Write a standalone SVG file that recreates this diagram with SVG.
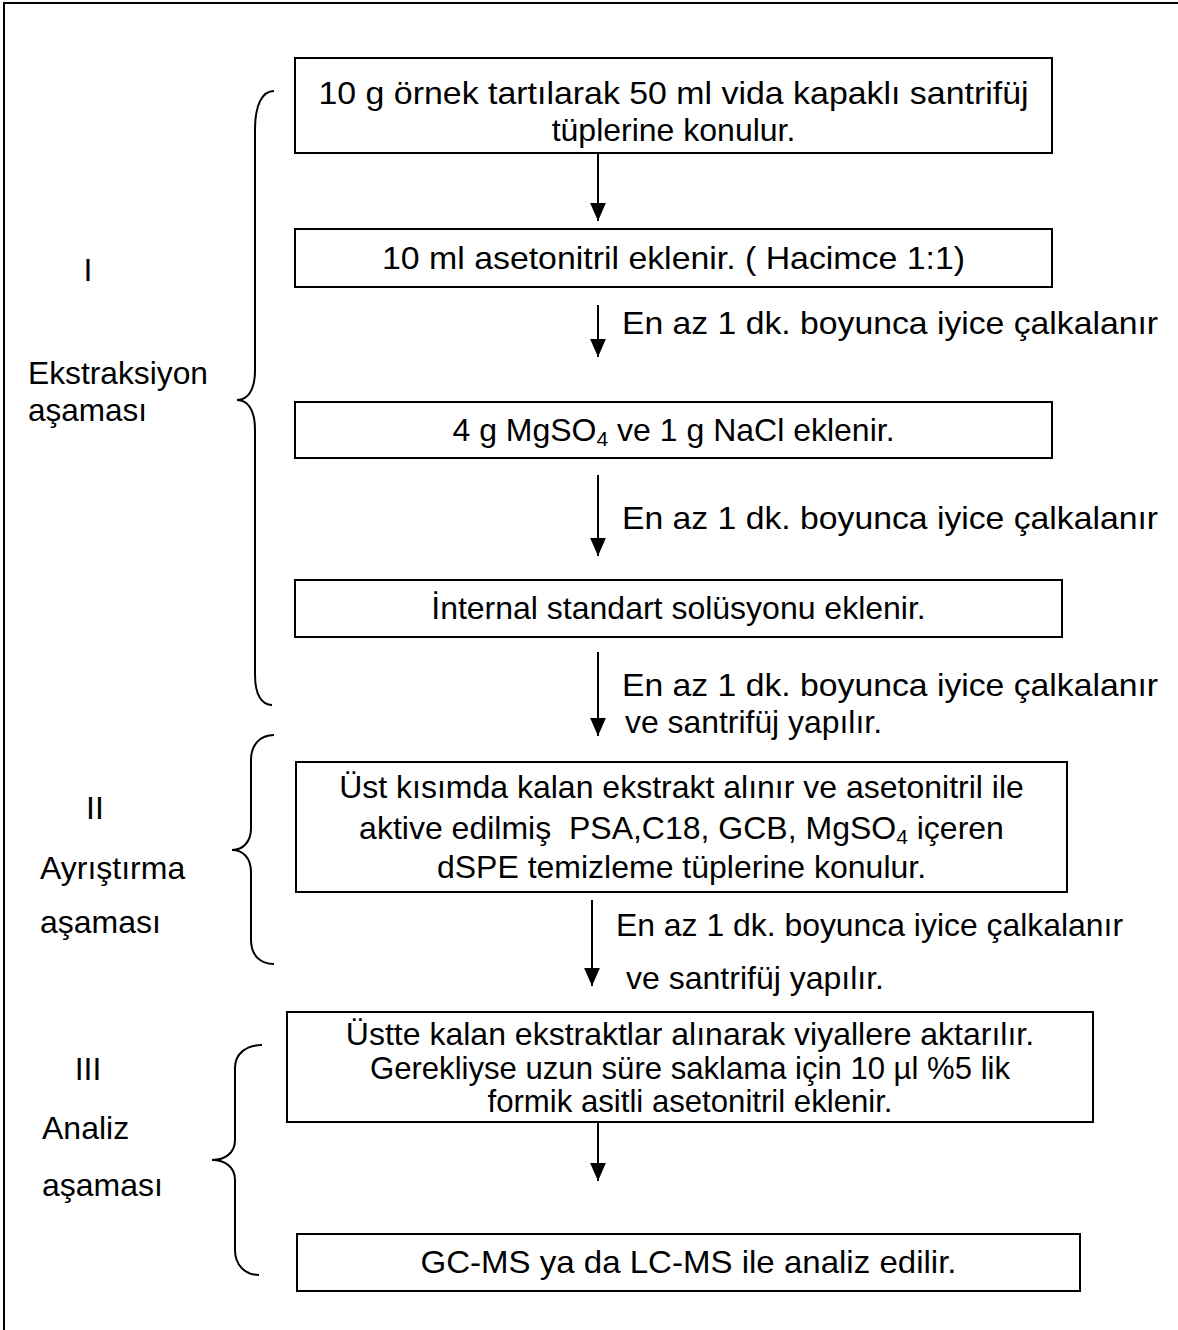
<svg xmlns="http://www.w3.org/2000/svg" width="1178" height="1330" viewBox="0 0 1178 1330">
<style>
text{font-family:"Liberation Sans",Arial,sans-serif;font-size:32px;fill:#000}
.c{text-anchor:middle}
.box{fill:#fff;stroke:#000;stroke-width:2}
.ln{stroke:#000;stroke-width:2;fill:none}
.br{stroke:#000;stroke-width:2;fill:none}
</style>
<defs>
<marker id="ah" markerUnits="userSpaceOnUse" markerWidth="18" markerHeight="16" refX="16" refY="7" orient="auto" viewBox="0 0 16 14">
<path d="M0,0 L16,7 L0,14 Z" fill="#000"/>
</marker>
</defs>
<rect width="1178" height="1330" fill="#fff"/>
<g id="frame"><path d="M4,1330 L4,3 L1178,3" class="ln" stroke-width="3"/></g>
<g id="braces">
<path class="br" d="M274,91 C262,91 255,105 255,130 L255,370 C255,390 248,400 237,400 C248,400 255,410 255,430 L255,675 C255,695 262,705 272,705"/>
<path class="br" d="M274,735 C260,735 251,745 251,760 L251,828 C251,842 243,850 232,850 C243,850 251,858 251,872 L251,940 C251,955 260,964 274,964"/>
<path class="br" d="M262,1045 C247,1045 235,1053 235,1068 L235,1140 C235,1153 225,1160 212,1160 C225,1160 235,1167 235,1180 L235,1250 C235,1265 245,1275 259,1275"/>
</g>
<g id="stage-labels">
<text x="88" y="281" class="c">I</text>
<text x="28" y="384" textLength="180" lengthAdjust="spacingAndGlyphs">Ekstraksiyon</text>
<text x="28" y="421" textLength="119" lengthAdjust="spacingAndGlyphs">aşaması</text>
<text x="95" y="819" class="c">II</text>
<text x="40" y="879">Ayrıştırma</text>
<text x="40" y="933">aşaması</text>
<text x="88" y="1080" class="c">III</text>
<text x="42" y="1139">Analiz</text>
<text x="42" y="1196">aşaması</text>
</g>
<g id="connectors">
<line class="ln" x1="598" y1="153" x2="598" y2="221" marker-end="url(#ah)"/>
<line class="ln" x1="598" y1="305" x2="598" y2="357" marker-end="url(#ah)"/>
<line class="ln" x1="598" y1="475" x2="598" y2="556" marker-end="url(#ah)"/>
<line class="ln" x1="598" y1="652" x2="598" y2="736" marker-end="url(#ah)"/>
<line class="ln" x1="592" y1="900" x2="592" y2="986" marker-end="url(#ah)"/>
<line class="ln" x1="598" y1="1122" x2="598" y2="1181" marker-end="url(#ah)"/>
<text x="622" y="334" textLength="536" lengthAdjust="spacingAndGlyphs">En az 1 dk. boyunca iyice çalkalanır</text>
<text x="622" y="529" textLength="536" lengthAdjust="spacingAndGlyphs">En az 1 dk. boyunca iyice çalkalanır</text>
<text x="622" y="696" textLength="536" lengthAdjust="spacingAndGlyphs">En az 1 dk. boyunca iyice çalkalanır</text>
<text x="625" y="733" textLength="257" lengthAdjust="spacingAndGlyphs">ve santrifüj yapılır.</text>
<text x="616" y="936" textLength="507" lengthAdjust="spacingAndGlyphs">En az 1 dk. boyunca iyice çalkalanır</text>
<text x="626" y="989" textLength="258" lengthAdjust="spacingAndGlyphs">ve santrifüj yapılır.</text>
</g>
<g id="n1"><rect class="box" x="295" y="58" width="757" height="95"/>
<text class="c" x="673.5" y="104" textLength="710" lengthAdjust="spacingAndGlyphs">10 g örnek tartılarak 50 ml vida kapaklı santrifüj</text>
<text class="c" x="673.5" y="141">tüplerine konulur.</text></g>
<g id="n2"><rect class="box" x="295" y="229" width="757" height="58"/>
<text class="c" x="673.5" y="269" textLength="583" lengthAdjust="spacingAndGlyphs">10 ml asetonitril eklenir. ( Hacimce 1:1)</text></g>
<g id="n3"><rect class="box" x="295" y="402" width="757" height="56"/>
<text class="c" x="673.5" y="441">4 g MgSO<tspan font-size="21" dy="5">4</tspan><tspan dy="-5"> ve 1 g NaCl eklenir.</tspan></text></g>
<g id="n4"><rect class="box" x="295" y="580" width="767" height="57"/>
<text class="c" x="678.5" y="619">İnternal standart solüsyonu eklenir.</text></g>
<g id="n5"><rect class="box" x="296" y="762" width="771" height="130"/>
<text class="c" x="681.5" y="798">Üst kısımda kalan ekstrakt alınır ve asetonitril ile</text>
<text class="c" x="681.5" y="839">aktive edilmiş&#160; PSA,C18, GCB, MgSO<tspan font-size="21" dy="5">4</tspan><tspan dy="-5"> içeren</tspan></text>
<text class="c" x="681.5" y="878">dSPE temizleme tüplerine konulur.</text></g>
<g id="n6"><rect class="box" x="287" y="1012" width="806" height="110"/>
<text class="c" x="690" y="1045">Üstte kalan ekstraktlar alınarak viyallere aktarılır.</text>
<text class="c" x="690" y="1079" textLength="640" lengthAdjust="spacingAndGlyphs">Gerekliyse uzun süre saklama için 10 µl %5 lik</text>
<text class="c" x="690" y="1112" textLength="405" lengthAdjust="spacingAndGlyphs">formik asitli asetonitril eklenir.</text></g>
<g id="n7"><rect class="box" x="297" y="1234" width="783" height="57"/>
<text class="c" x="688.5" y="1273" textLength="536" lengthAdjust="spacingAndGlyphs">GC-MS ya da LC-MS ile analiz edilir.</text></g>
</svg>
